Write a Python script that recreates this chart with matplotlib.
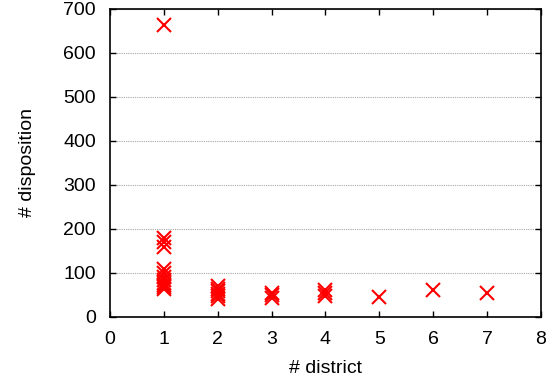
import matplotlib
matplotlib.use("Agg")
import matplotlib.pyplot as plt

# districts and dispositions per district
district = [1, 1, 1, 1, 1, 1, 1, 1, 1, 1, 1, 1,
            2, 2, 2, 2, 2, 2,
            3, 3, 3,
            4, 4, 4,
            5, 6, 7]
disposition = [663, 180, 170, 158, 110, 100, 90, 85, 78, 72, 68, 64,
               70, 64, 58, 52, 47, 42,
               55, 49, 44,
               62, 55, 48,
               45, 62, 55]

x_ticks = [0, 1, 2, 3, 4, 5, 6, 7, 8]
y_ticks = [0, 100, 200, 300, 400, 500, 600, 700]

plt.rcParams['font.family'] = ['Liberation Sans', 'DejaVu Sans']

fig = plt.figure(figsize=(5.47, 3.88), dpi=100)
ax = fig.add_axes([0.201, 0.183, 0.788, 0.794])

ax.plot(district, disposition, linestyle='none', marker='x', color='#ff0000',
        markersize=10, markeredgewidth=1.5, zorder=3)

ax.set_xlim(0, 8)
ax.set_ylim(0, 700)
ax.set_xticks(x_ticks)
ax.set_yticks(y_ticks)
ax.yaxis.grid(True, linestyle=(0, (1, 1)), color='#a8a8a8', linewidth=0.8)
ax.tick_params(direction='in', top=True, right=True, length=4, labelsize=14,
               width=1, pad=10)
ax.set_xlabel('# district', fontsize=14, labelpad=9)
ax.set_ylabel('# disposition', fontsize=14, labelpad=20)
for s in ax.spines.values():
    s.set_linewidth(1.2)

fig.savefig('out.png', dpi=100)
